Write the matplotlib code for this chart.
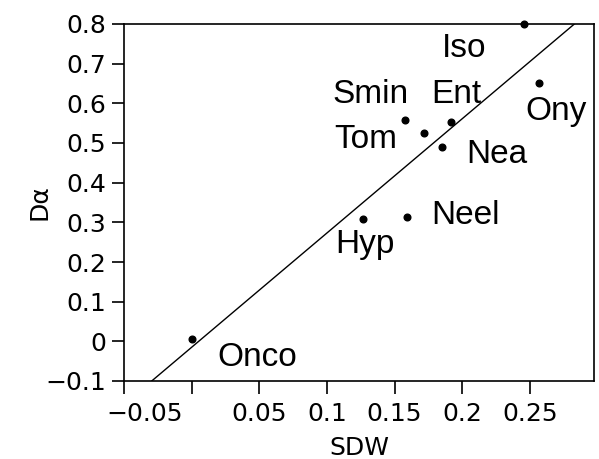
import matplotlib
matplotlib.use("Agg")
import matplotlib.pyplot as plt
import matplotlib.transforms as mtransforms
import numpy as np

# values
names = ["Onco", "Hyp", "Neel", "Smin", "Tom", "Ent", "Nea", "Iso", "Ony"]
sdw = [0.0, 0.127, 0.159, 0.158, 0.172, 0.192, 0.185, 0.246, 0.257]
d_alpha = [0.005, 0.309, 0.313, 0.557, 0.526, 0.554, 0.491, 0.800, 0.650]

# regression line
fit_slope = 2.88
fit_intercept = -0.015

x_ticks = [-0.05, 0.0, 0.05, 0.1, 0.15, 0.2, 0.25]
x_ticklabels = ["\u22120.05", "", "0.05", "0.1", "0.15", "0.2", "0.25"]
y_ticks = [-0.1, 0.0, 0.1, 0.2, 0.3, 0.4, 0.5, 0.6, 0.7, 0.8]
y_ticklabels = ["\u22120.1", "0", "0.1", "0.2", "0.3", "0.4", "0.5", "0.6", "0.7", "0.8"]

# label placement (pixels from the dot: text centre x, baseline y)
label_offsets = {
    "Onco": (66, -27), "Hyp": (2, -34), "Neel": (59, -7),
    "Smin": (-35, 17), "Tom": (-59, -15), "Ent": (5, 19),
    "Nea": (55, -16), "Iso": (-60, -33), "Ony": (17, -37),
}

fig = plt.figure(figsize=(5.99, 4.59), dpi=100)
ax = fig.add_axes([124 / 599, 78 / 459, 470 / 599, 357 / 459])

xlim = (-0.05, 0.2975)
ax.set_xlim(*xlim)
ax.set_ylim(-0.1, 0.8)

xs = np.array(xlim)
ax.plot(xs, fit_intercept + fit_slope * xs, color="black", lw=1.0)
ax.plot(sdw, d_alpha, "o", color="black", ms=4.8, clip_on=False, zorder=3)

for name, x, y in zip(names, sdw, d_alpha):
    dx, dy = label_offsets[name]
    ax.annotate(name, (x, y), xytext=(dx, dy), textcoords="offset pixels",
                ha="center", va="baseline", fontsize=24,
                family="Liberation Sans")

ax.set_xticks(x_ticks)
ax.set_xticklabels(x_ticklabels)
ax.set_yticks(y_ticks)
ax.set_yticklabels(y_ticklabels)
ax.tick_params(labelsize=18, length=9, width=1.2, pad=4, direction="out")
ax.tick_params(axis="x", pad=6)

# the "-0.05" label sits right of its tick in the original
shift = mtransforms.ScaledTranslation(21 / 100, 0, fig.dpi_scale_trans)
first = ax.get_xticklabels()[0]
first.set_transform(first.get_transform() + shift)

for s in ax.spines.values():
    s.set_linewidth(1.2)

ax.set_xlabel("SDW", fontsize=18, labelpad=7)
ax.set_ylabel("D\u03b1", fontsize=18)
ax.yaxis.set_label_coords(-0.155, 0.5)

fig.savefig("out.png", dpi=100)
